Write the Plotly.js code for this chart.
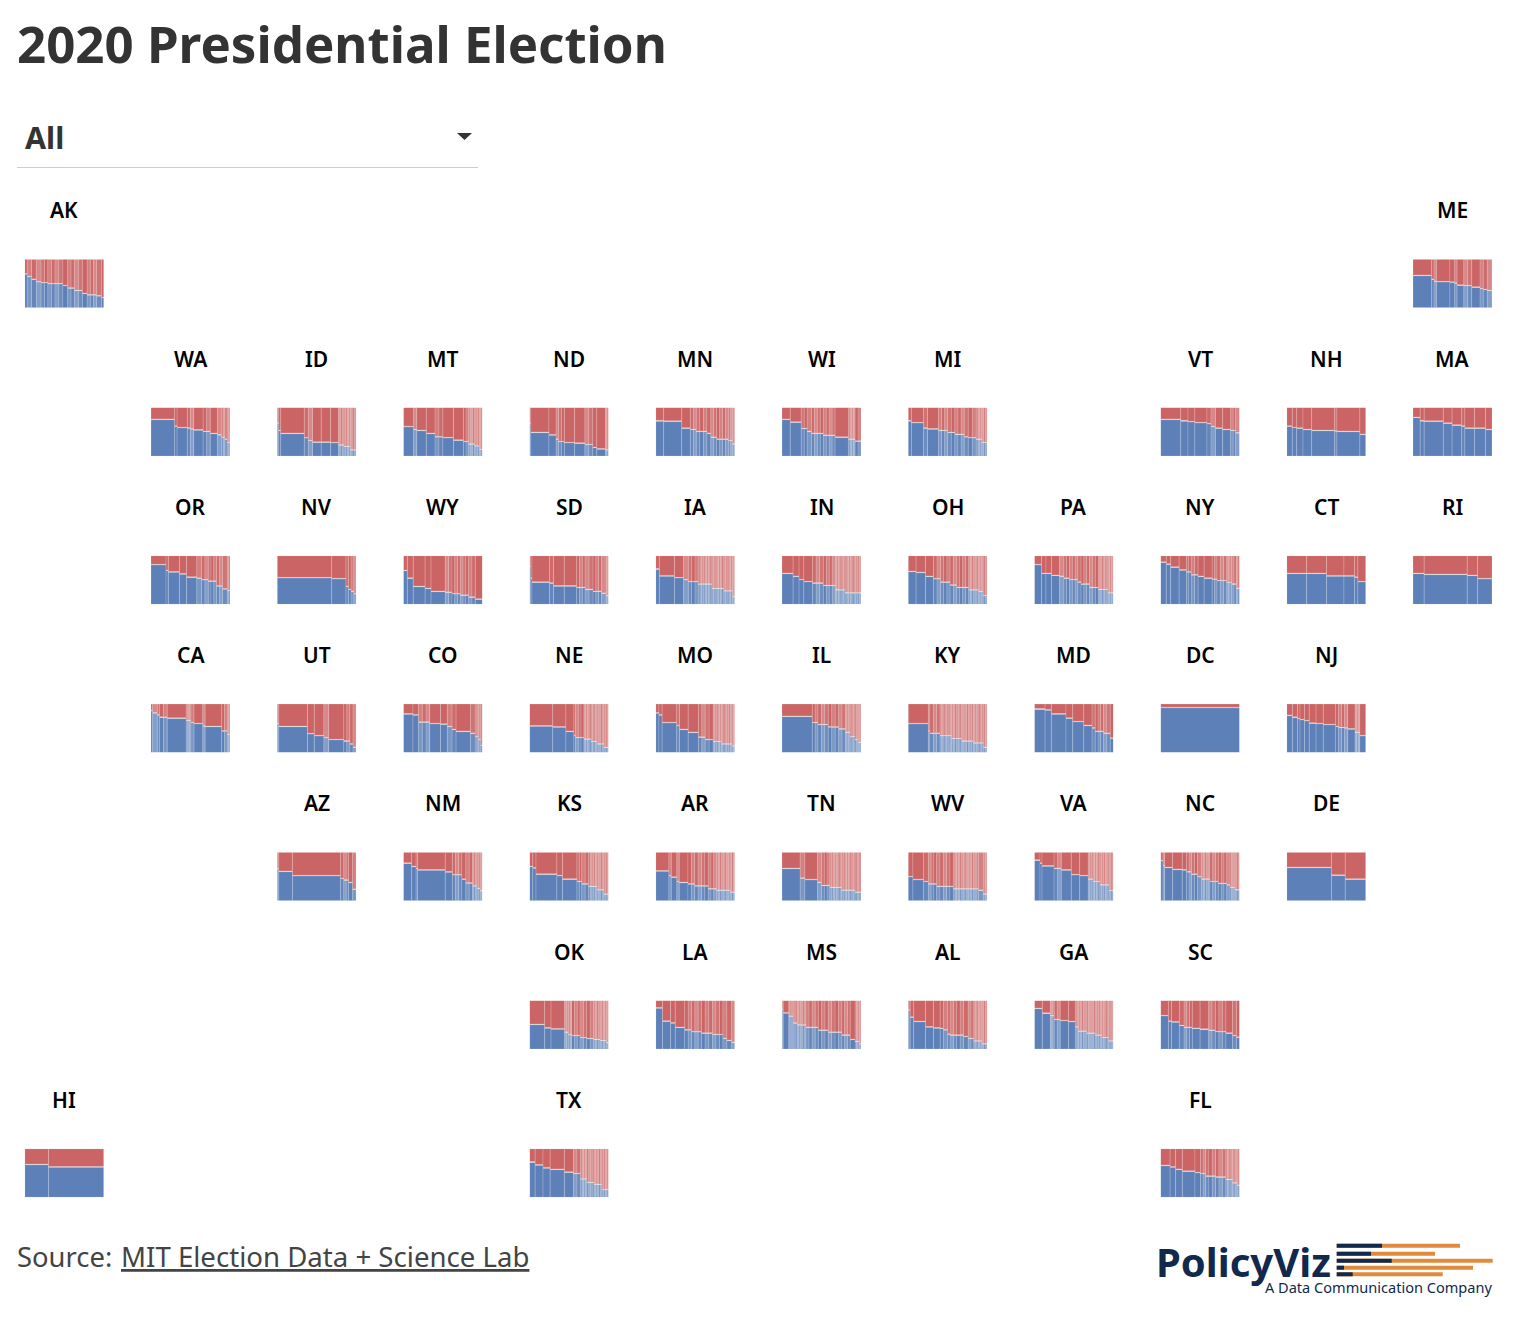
<!DOCTYPE html>
<html><head><meta charset="utf-8">
<script src="https://cdn.plot.ly/plotly-3.0.1.min.js"></script>
<style>html,body{margin:0;padding:0;background:#fff}#chart{width:1530px;height:1326px}</style>
</head><body><div id="chart"></div>
<script>
// Each row: [share of state vote %, Democratic share %, county-size class (0 large, 1 mixed, 2 tiny counties)]
const AK=[[3,69,1],[5.5,64,1],[6,58,1],[6,53,1],[8.5,51,1],[9,49,1],[10,49,1],[6,45,1],[8.5,40,1],[10,35,1],[6,29,1],[12,26,1],[6,24,1],[3,20,1]];
const ME=[[23.5,66,0],[3,58,1],[3,54,1],[17,53,0],[6,52,1],[3,50,1],[8.5,46,0],[10,45,1],[10.5,42,0],[4,39,1],[5,37,1],[6,35,1]];
const WA=[[30,75,0],[3,61,1],[13,58,0],[4,57,1],[4,55,1],[12,53,0],[9,50,1],[9,46,0],[5.5,43,1],[4,38,2],[3,34,1],[3.5,27,2]];
const ID=[[2,67,1],[2.5,52,1],[30,46,0],[5,37,1],[5.5,31,1],[11,28,0],[12,28,0],[10,27,0],[7,22,2],[8,19,2],[7.5,12,2]];
const MT=[[13,60,0],[4,54,1],[12,52,0],[11,46,0],[10,39,1],[13.5,37,0],[12.5,32,0],[6.5,29,1],[7.5,24,2],[6,20,2],[4,13,2]];
const ND=[[1.5,67,1],[23,48,0],[9,43,0],[3,34,1],[7.5,29,1],[13,27,0],[13,26,0],[10,23,1],[5,17,1],[11,14,0],[4,12,2]];
const MN=[[10,72,0],[23,71,0],[11,57,0],[7.5,54,1],[13.5,50,1],[5,46,1],[7.5,38,1],[15,34,1],[5,31,2],[3,24,2]];
const WI=[[10.5,75,0],[14,69,0],[7.5,56,1],[5.5,50,1],[15,46,1],[15,42,1],[17,38,0],[8.5,34,2],[7.5,30,1]];
const MI=[[4,72,0],[15.5,68,0],[5,57,1],[14,55,0],[11.5,52,1],[9,48,1],[12,44,1],[5,39,1],[10,37,1],[7,34,2],[7,27,2]];
const VT=[[25,75,0],[9,72,0],[8.5,70,0],[15,68,0],[5,66,1],[5.5,60,1],[9,57,0],[10,54,0],[6,52,1],[5,47,1]];
const NH=[[7,61,0],[5.5,58,1],[8,57,0],[11,54,0],[29,52,0],[3,51,1],[29,50,0],[7.5,44,0]];
const MA=[[9,79,0],[5,72,0],[24,71,0],[11,67,0],[12,63,0],[4,61,1],[12,57,0],[14,57,0],[8,54,0]];
const OR=[[19,81,0],[3,69,1],[14,66,0],[9,62,0],[13,55,0],[6,53,1],[8.5,50,1],[10.5,47,1],[7.5,37,1],[6,31,1],[3.5,28,2]];
const NV=[[69,54,0],[18,52,0],[3.5,36,1],[3,30,1],[3.5,26,1],[3,21,2]];
const WY=[[5,69,0],[7.5,53,0],[15,36,0],[7.5,32,0],[18,26,0],[8.5,24,1],[10.5,21,1],[10.5,18,1],[8.5,14,1],[9,10,0]];
const SD=[[1.5,77,1],[1.5,53,1],[22,45,0],[5,43,1],[13.5,37,0],[15.6,37,0],[10.5,34,1],[10,30,1],[10.5,26,1],[6,22,1],[3,17,2]];
const IA=[[4.5,72,0],[19,58,0],[11.5,54,0],[6,50,1],[12.5,46,1],[17,41,2],[15,32,2],[11,27,2],[3,15,2]];
const IN=[[14,63,0],[7.5,57,0],[6,50,1],[11,46,0],[13.5,43,1],[15,38,1],[12.5,29,2],[20,23,2]];
const OH=[[10,67,0],[12,65,0],[10,57,0],[9,52,1],[12,45,1],[8.5,39,1],[15,34,1],[12.5,29,2],[6,26,2],[5,17,2]];
const PA=[[9,81,0],[5.5,63,0],[7,63,0],[10,59,0],[5.5,57,1],[7,53,1],[10.5,50,1],[4,45,1],[10.5,41,1],[11,34,1],[12,30,2],[7,23,2]];
const NY=[[7,86,0],[5.5,82,0],[10.5,76,0],[9,70,0],[6,66,1],[8.5,60,1],[7.5,57,0],[10,53,0],[6,51,1],[12,48,1],[6,44,2],[6,41,1],[4,32,2]];
const CT=[[25,63,0],[25,63,0],[22,58,0],[13.5,58,0],[4,55,0],[10,46,0]];
const RI=[[14,63,0],[54,61,0],[13,59,0],[18,52,0]];
const CA=[[2,86,0],[6,81,1],[3,77,1],[9.5,72,1],[24,70,0],[6,65,2],[4,61,1],[11,59,0],[3,54,1],[21,53,0],[7,44,1],[3.5,36,2]];
const UT=[[2,59,1],[36,53,0],[8.5,38,0],[12,34,0],[6,30,1],[19,26,0],[7.5,23,1],[4,17,1],[4,10,1]];
const CO=[[12,79,0],[7,77,0],[14,62,1],[13.5,59,0],[8.5,58,0],[6,53,1],[5,47,1],[18,43,0],[6,39,1],[4,32,2],[3,26,2],[2,14,2]];
const NE=[[29,54,0],[16.5,52,0],[10,43,0],[2,34,1],[10.5,30,1],[9,27,2],[7.5,22,2],[8.5,17,2],[6,10,2]];
const MO=[[4,81,0],[4,77,0],[18.5,61,0],[3.5,55,1],[11,47,0],[13,41,0],[8.5,31,1],[10,26,1],[10.5,22,2],[13.5,17,2],[3.5,13,2]];
const IL=[[38,74,0],[7,61,1],[13,57,1],[13,52,1],[8.5,48,1],[6,41,2],[6,32,2],[4,26,2],[3.5,20,2]];
const KY=[[26,59,0],[2,44,1],[13,39,1],[15,34,2],[13,28,2],[15,23,2],[13,19,2],[5,10,2]];
const MD=[[13.5,89,0],[8,87,0],[18.5,79,0],[8.5,70,0],[14,63,0],[10.5,55,0],[4,50,1],[10.5,43,1],[8.5,39,1],[4,29,1]];
const DC=[[100,92,0]];
const NJ=[[7,76,0],[6.5,72,0],[3,69,0],[5.5,67,0],[6,65,0],[8.5,60,0],[9,59,0],[15.5,57,0],[3.5,53,1],[7.5,51,1],[4,50,1],[9,48,0],[6,41,2],[7.5,34,0]];
const AZ=[[2,65,1],[17,60,0],[60,51,0],[4,45,1],[6,42,1],[5,37,1],[4.5,23,1]];
const NM=[[10.5,77,0],[5.5,70,0],[2,66,1],[35,63,0],[9,59,0],[12,53,1],[5,44,1],[8.5,36,1],[5.5,30,2],[4,25,2],[3,20,2]];
const KS=[[4,70,0],[4,67,0],[26,54,0],[7,51,0],[18,44,0],[6,39,1],[8.5,34,1],[10.5,29,2],[8.5,22,2],[6,13,2]];
const AR=[[16.5,61,0],[3,51,1],[7,48,0],[3,39,1],[11,37,0],[8.5,34,1],[17,30,1],[10.5,24,1],[17,21,2],[6,17,2]];
const TN=[[23,66,0],[6,46,1],[16,43,0],[5,37,1],[10.5,31,1],[15,27,2],[17,21,2],[7.5,17,2]];
const WV=[[6,49,0],[13.5,43,0],[6,39,1],[10.5,34,1],[21,29,1],[32,24,2],[6,21,1],[5,13,2]];
const VA=[[7,83,0],[2.5,77,1],[15,71,0],[9,66,1],[12.5,63,0],[10.5,53,0],[10.5,51,0],[6,44,2],[8.5,39,2],[11.5,32,2],[5.5,20,2]];
const NC=[[3,82,1],[2,72,1],[10,68,0],[12,64,0],[5.5,63,0],[6,59,1],[7.5,54,1],[5,49,1],[10.5,44,2],[10.5,39,1],[10.5,35,1],[4,32,1],[6,27,2],[6,22,2]];
const DE=[[56.5,68,0],[17.5,52,0],[26,44,0]];
const OK=[[19,50,0],[8,43,0],[17,41,0],[5,34,2],[4,29,2],[10.5,27,1],[8.5,23,1],[8.5,21,1],[8.5,19,2],[7.5,17,2],[3,13,2]];
const LA=[[8.5,84,0],[10,57,0],[6,53,0],[12,44,0],[8.5,39,1],[12.5,35,1],[14,32,1],[13,29,1],[5,21,1],[6,17,1],[4,13,1]];
const MS=[[1.5,81,2],[7,74,0],[5.5,67,2],[5,53,2],[11,49,2],[15.5,44,1],[12.5,38,1],[17,34,1],[10.5,28,1],[6,19,1],[5.5,15,2],[2,10,2]];
const AL=[[2.5,80,2],[4.5,65,0],[15,56,0],[10,45,0],[8.5,43,0],[4,42,1],[5.5,39,1],[3,30,1],[17,28,1],[6,25,1],[7,21,1],[10,16,2],[7,10,2]];
const GA=[[10,83,0],[10,73,0],[5,68,2],[7.5,60,1],[10.5,58,0],[8.5,56,0],[4,45,2],[10.5,36,2],[10.5,32,2],[8.5,28,2],[8.5,23,2],[6,16,2]];
const SC=[[10,68,0],[4,57,1],[10,55,0],[6,48,1],[10.5,44,1],[10,42,0],[11,40,0],[8.5,38,1],[13.5,35,1],[8.5,32,0],[5,27,1],[4,24,1]];
const HI=[[30,67,0],[70,62,0]];
const TX=[[7,72,0],[10,66,0],[9,60,0],[18,57,0],[11.5,51,0],[9,48,1],[8,37,2],[9,30,2],[10,26,2],[8.5,15,2]];
const FL=[[12,65,0],[7,62,0],[8.5,57,0],[16,53,0],[7,50,0],[6.5,48,1],[12.5,43,1],[13,41,1],[8.5,36,2],[6,29,2],[3,24,2]];

const stateCodes=['AK','ME','WA','ID','MT','ND','MN','WI','MI','VT','NH','MA','OR','NV','WY','SD','IA','IN','OH','PA','NY','CT','RI','CA','UT','CO','NE','MO','IL','KY','MD','DC','NJ','AZ','NM','KS','AR','TN','WV','VA','NC','DE','OK','LA','MS','AL','GA','SC','HI','TX','FL'];
const stateRows=[AK,ME,WA,ID,MT,ND,MN,WI,MI,VT,NH,MA,OR,NV,WY,SD,IA,IN,OH,PA,NY,CT,RI,CA,UT,CO,NE,MO,IL,KY,MD,DC,NJ,AZ,NM,KS,AR,TN,WV,VA,NC,DE,OK,LA,MS,AL,GA,SC,HI,TX,FL];
const gridCol=[0,11,1,2,3,4,5,6,7,9,10,11,1,2,3,4,5,6,7,8,9,10,11,1,2,3,4,5,6,7,8,9,10,2,3,4,5,6,7,8,9,10,4,5,6,7,8,9,0,4,9];
const gridRow=[0,0,1,1,1,1,1,1,1,1,1,1,2,2,2,2,2,2,2,2,2,2,2,3,3,3,3,3,3,3,3,3,3,4,4,4,4,4,4,4,4,4,5,5,5,5,5,5,6,6,6];

const W=1530,H=1326,T_W=79,T_H=48.5,X0=24.8,DX=126.2,Y0=259.3,DY=148.25,GAP=1.6;
const BLUE='#5d80b8',RED='#cb6464',GREY='#cfcfcf';
// Tone sequences for the thin county columns inside a mixed or tiny-county run
const TONES=[[1],[1,.82,.95,.76,.9],[.72,.62,.84,.66,.7,.78,.6]];
const COL_PX=[1e9,3.2,1.7];
const LINE_W=[0.4,0.3,0.15];
const traces=[],layout={width:W,height:H,margin:{l:0,r:0,t:0,b:0},showlegend:false,barmode:'overlay',
 paper_bgcolor:'#fff',plot_bgcolor:'#fff',annotations:[],shapes:[],hovermode:false};
const px=x=>x/W, py=y=>1-y/H;
const text=(s,x,y,size,color,weight,extra)=>layout.annotations.push(Object.assign({text:s,xref:'paper',yref:'paper',x:px(x),y:py(y),xanchor:'left',yanchor:'middle',showarrow:false,
  font:{family:'Noto Sans',size:size,color:color,weight:weight}},extra||{}));

let toneIndex=0;
stateCodes.forEach((code,i)=>{
  const rows=stateRows[i],n=i+1,sfx=n===1?'':String(n);
  const total=rows.reduce((a,r)=>a+r[0],0);
  const left=X0+gridCol[i]*DX, top=Y0+gridRow[i]*DY;
  let c=0;const x=[],w=[],d=[],op=[],lw=[];
  rows.forEach(r=>{
    const f=r[0]/total, parts=Math.max(1,Math.round(f*T_W/COL_PX[r[2]]));
    for(let k=0;k<parts;k++){
      x.push(c+f*(k+.5)/parts);w.push(f/parts);d.push(r[1]);lw.push(LINE_W[r[2]]);
      const seq=TONES[r[2]];op.push(seq[(toneIndex++)%seq.length]);
    }
    c+=f;
  });
  const common={type:'bar',x:x,width:w,xaxis:'x'+sfx,yaxis:'y'+sfx,hoverinfo:'skip'};
  const mk=(color)=>({color:color,opacity:op,line:{color:'rgba(255,255,255,0.45)',width:lw}});
  traces.push(Object.assign({},common,{y:d,marker:mk(BLUE)}));
  traces.push(Object.assign({},common,{y:d.map(()=>GAP),base:d,marker:{color:GREY,opacity:op,line:{width:0}}}));
  traces.push(Object.assign({},common,{y:d.map(v=>100-v-GAP),base:d.map(v=>v+GAP),marker:mk(RED)}));
  layout['xaxis'+sfx]={domain:[px(left),px(left+T_W)],range:[0,1],anchor:'y'+sfx,visible:false,fixedrange:true};
  layout['yaxis'+sfx]={domain:[1-(top+T_H)/H,1-top/H],range:[0,100],anchor:'x'+sfx,visible:false,fixedrange:true};
  layout.annotations.push({text:code,xref:'paper',yref:'paper',x:px(left+T_W/2),y:py(top-49),xanchor:'center',yanchor:'middle',showarrow:false,
    font:{family:'Noto Sans',size:21,color:'#000',weight:600}});
});

text('2020 Presidential Election',15,43,51,'#333333',700);
text('All',22.5,137.5,30.5,'#333333',700);
layout.shapes.push({type:'line',xref:'paper',yref:'paper',x0:px(17),x1:px(478),y0:py(167.5),y1:py(167.5),line:{color:'#cccccc',width:1}});
layout.shapes.push({type:'path',xref:'paper',yref:'paper',path:`M ${px(457)} ${py(133)} L ${px(472)} ${py(133)} L ${px(464.5)} ${py(140)} Z`,fillcolor:'#333333',line:{width:0}});
text('Source:',15,1256,27.4,'#444444',400);
text('MIT Election Data + Science Lab',118.5,1256,27.6,'#444444',400,{});
layout.annotations[layout.annotations.length-1].font.lineposition='under';

// Logo
text('PolicyViz',1154,1261,40,'#10294d',700);
text('A Data Communication Company',1263,1286.5,14.55,'#10294d',400);
const logoNavyEnd=[1382,1371,1391.7,1344,1352.7],logoOrangeEnd=[1460,1435,1492.7,1473,1442.7],logoY=[1245.8,1253.7,1260.7,1267.7,1274.3];
logoY.forEach((y,i)=>{
  layout.shapes.push({type:'line',xref:'paper',yref:'paper',x0:px(1336.7),x1:px(logoOrangeEnd[i]),y0:py(y),y1:py(y),line:{color:'#e08a3c',width:4}});
  layout.shapes.push({type:'line',xref:'paper',yref:'paper',x0:px(1336.7),x1:px(logoNavyEnd[i]),y0:py(y),y1:py(y),line:{color:'#10294d',width:4}});
});
Plotly.newPlot('chart',traces,layout,{displayModeBar:false,staticPlot:true});
</script></body></html>
